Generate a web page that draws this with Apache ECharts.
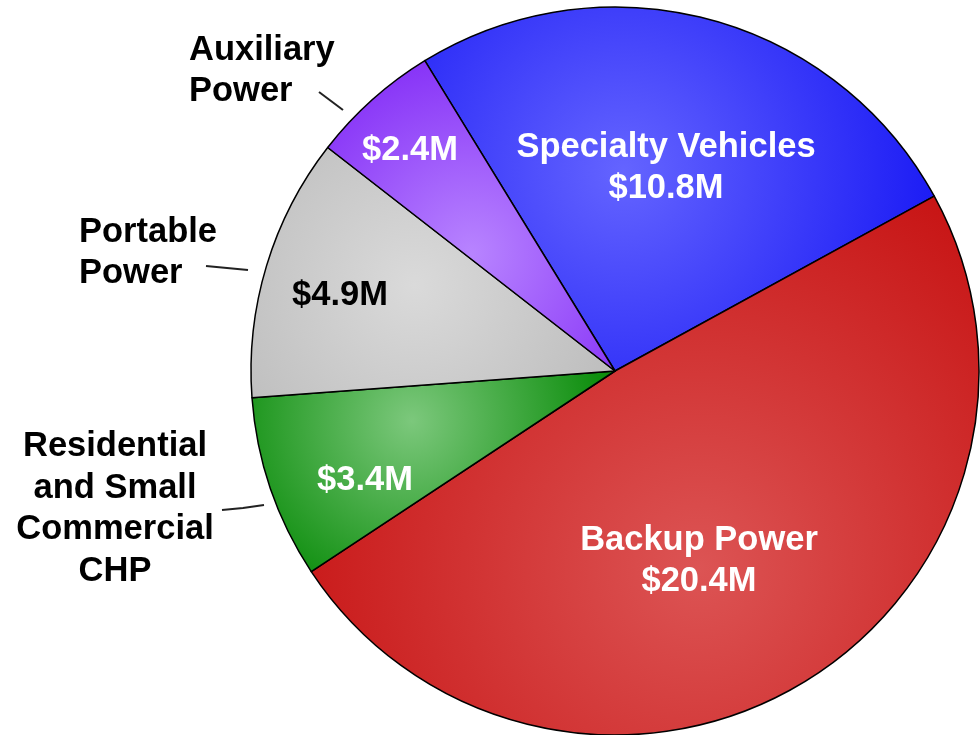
<!DOCTYPE html>
<html>
<head>
<meta charset="utf-8">
<script src="https://cdn.jsdelivr.net/npm/echarts@6/dist/echarts.min.js"></script>
<style>
  html, body { margin: 0; background: #fff; }
  #main { width: 980px; height: 735px; }
</style>
</head>
<body>
<div id="main"></div>
<script>
// data, clockwise from the top-left edge of Specialty Vehicles
const names = ['Specialty Vehicles', 'Backup Power', 'Residential and Small Commercial CHP', 'Portable Power', 'Auxiliary Power'];
const values = [10.8, 20.4, 3.4, 4.9, 2.4];
const innerTitles = ['Specialty Vehicles', 'Backup Power', '', '', ''];
const outerTitles = ['', '', 'Residential\nand Small\nCommercial\nCHP', 'Portable\nPower', 'Auxiliary\nPower'];

// styling
const darkColors = ['#1414f4', '#c40a0a', '#0e8e0e', '#bababa', '#7414f4'];
const lightColors = ['#6464ff', '#dc5454', '#7cc87c', '#dadada', '#b884ff'];
const glow = [[0.39, 0.45], [0.58, 0.69], [0.44, 0.25], [0.45, 0.55], [0.5, 0.62]];
const innerTextColors = ['#fff', '#fff', '#fff', '#000', '#fff'];
const innerPos = [[666, 168], [699, 561], [365, 480], [340, 295], [410, 150]];
const outerPos = [null, null,
  { x: 115, y: 509, align: 'center', line: [[222, 510], [243, 508], [264, 505]] },
  { x: 79, y: 253, align: 'left', line: [[206, 266], [227, 268], [248, 270]] },
  { x: 189, y: 71, align: 'left', line: [[319, 92], [331, 101], [343, 110]] }
];

const font = { fontFamily: 'Liberation Sans, Arial, sans-serif', fontWeight: 'bold', fontSize: 34.5, lineHeight: 41.5 };

const chart = echarts.init(document.getElementById('main'));

const innerData = values.map((v, i) => ({
  name: names[i],
  value: v,
  itemStyle: {
    color: {
      type: 'radial', x: glow[i][0], y: glow[i][1], r: 0.95,
      colorStops: [{ offset: 0, color: lightColors[i] }, { offset: 1, color: darkColors[i] }]
    }
  },
  label: {
    color: innerTextColors[i],
    formatter: (innerTitles[i] ? innerTitles[i] + '\n' : '') + '$' + v.toFixed(1) + 'M'
  }
}));

const outerData = values.map((v, i) => ({
  name: names[i],
  value: v,
  label: { show: !!outerTitles[i], formatter: outerTitles[i] },
  labelLine: { show: !!outerTitles[i] }
}));

chart.setOption({
  animation: false,
  series: [
    {
      type: 'pie',
      center: [615, 371],
      radius: 364,
      startAngle: 121.5,
      clockwise: true,
      avoidLabelOverlap: false,
      itemStyle: { borderColor: '#000', borderWidth: 1.5 },
      label: Object.assign({ show: true, position: 'inside', align: 'center' }, font),
      labelLine: { show: false },
      labelLayout: p => ({
        x: innerPos[p.dataIndex][0],
        y: innerPos[p.dataIndex][1],
        align: 'center',
        verticalAlign: 'middle'
      }),
      emphasis: { disabled: true },
      data: innerData
    },
    {
      type: 'pie',
      center: [615, 371],
      radius: 364,
      startAngle: 121.5,
      clockwise: true,
      silent: true,
      avoidLabelOverlap: false,
      itemStyle: { color: 'rgba(0,0,0,0)', borderWidth: 0 },
      label: Object.assign({ position: 'outside', color: '#000', align: 'center' }, font),
      labelLine: { length: 10, length2: 10, lineStyle: { color: '#222', width: 2 } },
      labelLayout: p => {
        const o = outerPos[p.dataIndex];
        if (!o) return {};
        return { x: o.x, y: o.y, align: o.align, verticalAlign: 'middle', labelLinePoints: o.line };
      },
      emphasis: { disabled: true },
      data: outerData
    }
  ]
});
</script>
</body>
</html>
